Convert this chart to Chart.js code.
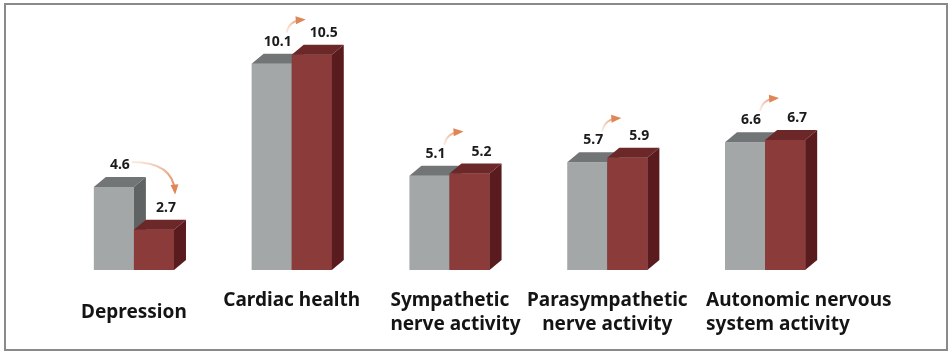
<!DOCTYPE html>
<html>
<head>
<meta charset="utf-8">
<script src="https://cdn.jsdelivr.net/npm/chart.js@4/dist/chart.umd.min.js"></script>
<style>
  html, body { margin: 0; padding: 0; background: #ffffff; }
  #wrap { position: relative; width: 952px; height: 355px; }
  #frame { position: absolute; left: 4px; top: 3px; width: 940px; height: 344px;
           border: 2px solid #8a8a8a; pointer-events: none; }
  canvas { position: absolute; left: 0; top: 0; }
</style>
</head>
<body>
<div id="wrap">
  <canvas id="c" width="952" height="355"></canvas>
  <div id="frame"></div>
</div>
<script>
const categories = [
  ['Depression'],
  ['Cardiac health'],
  ['Sympathetic', 'nerve activity'],
  ['Parasympathetic', 'nerve activity'],
  ['Autonomic nervous', 'system activity']
];
const beforeValues = [4.6, 10.1, 5.1, 5.7, 6.6];
const afterValues  = [2.7, 10.5, 5.2, 5.9, 6.7];
const axisMin = 0.9, axisMax = 11.6;

// styling of the category captions (alignment as in the original layout)
const captionAlign  = ['center', 'center', 'left', 'center', 'left'];
const captionVAlign = ['middle', 'top', 'top', 'top', 'top'];

const faceStyles = [
  { front: '#a4a7a8', top: '#717576', side: '#5f6364' },
  { front: '#8c3b3b', top: '#6c2829', side: '#5a1b1e' }
];
const DX = 12, DY = 10;

function faces(ctx, p, st) {
  const l = p.x - p.width / 2, r = p.x + p.width / 2;
  ctx.fillStyle = st.top;
  ctx.beginPath();
  ctx.moveTo(l, p.y); ctx.lineTo(l + DX, p.y - DY);
  ctx.lineTo(r + DX, p.y - DY); ctx.lineTo(r, p.y);
  ctx.closePath(); ctx.fill();
  ctx.fillStyle = st.side;
  ctx.beginPath();
  ctx.moveTo(r, p.y); ctx.lineTo(r + DX, p.y - DY);
  ctx.lineTo(r + DX, p.base - DY); ctx.lineTo(r, p.base);
  ctx.closePath(); ctx.fill();
}

const bar3d = {
  id: 'bar3d',
  afterDatasetsDraw(chart) {
    const ctx = chart.ctx;
    const m0 = chart.getDatasetMeta(0), m1 = chart.getDatasetMeta(1);
    ctx.save();
    m0.data.forEach((g, i) => {
      const pg = g.getProps(['x', 'y', 'base', 'width'], true);
      const pr = m1.data[i].getProps(['x', 'y', 'base', 'width'], true);
      faces(ctx, pg, faceStyles[0]);
      ctx.fillStyle = faceStyles[1].front;
      ctx.fillRect(pr.x - pr.width / 2, pr.y, pr.width, pr.base - pr.y);
      faces(ctx, pr, faceStyles[1]);
    });
    ctx.restore();
  }
};

function drawArrow(ctx, s, c, e) {
  const g = ctx.createLinearGradient(s.x, s.y, e.x, e.y);
  g.addColorStop(0, 'rgba(240,190,160,0.3)');
  g.addColorStop(1, '#e08556');
  ctx.strokeStyle = g;
  ctx.lineWidth = 2;
  ctx.beginPath();
  ctx.moveTo(s.x, s.y);
  ctx.quadraticCurveTo(c.x, c.y, e.x, e.y);
  ctx.stroke();
  const ang = Math.atan2(e.y - c.y, e.x - c.x);
  const L = 7, W = 4;
  ctx.fillStyle = '#e08556';
  ctx.beginPath();
  ctx.moveTo(e.x + Math.cos(ang) * 3, e.y + Math.sin(ang) * 3);
  ctx.lineTo(e.x - Math.cos(ang) * L + Math.sin(ang) * W, e.y - Math.sin(ang) * L - Math.cos(ang) * W);
  ctx.lineTo(e.x - Math.cos(ang) * L - Math.sin(ang) * W, e.y - Math.sin(ang) * L + Math.cos(ang) * W);
  ctx.closePath(); ctx.fill();
}

const valueLabels = {
  id: 'valueLabels',
  afterDraw(chart) {
    const ctx = chart.ctx;
    const m0 = chart.getDatasetMeta(0), m1 = chart.getDatasetMeta(1);
    ctx.save();
    ctx.textAlign = 'center';
    ctx.textBaseline = 'middle';
    m0.data.forEach((g, i) => {
      const r = m1.data[i];
      const gl = { x: g.x + 6, y: g.y - 22 };
      const rl = { x: r.x + 12, y: r.y - 22 };
      if (afterValues[i] >= beforeValues[i]) {
        const s = { x: gl.x + 9, y: gl.y - 9 };
        const e = { x: rl.x - 21, y: Math.min(rl.y - 3, s.y - 13) };
        drawArrow(ctx, s, { x: s.x + 2, y: e.y + 1 }, e);
      } else {
        const s = { x: gl.x + 12, y: gl.y - 3 };
        const e = { x: rl.x + 9, y: rl.y - 16 };
        drawArrow(ctx, s, { x: e.x - 2, y: s.y }, e);
      }
      ctx.font = 'bold 14px "Noto Sans", "DejaVu Sans", sans-serif';
      ctx.fillStyle = '#1b1b1b';
      ctx.fillText(beforeValues[i].toFixed(1), gl.x, gl.y);
      ctx.fillText(afterValues[i].toFixed(1), rl.x, rl.y);
    });

    // category captions under the bars
    const xs = chart.scales.x;
    const bottom = chart.chartArea.bottom;
    const lh = 24;
    ctx.font = 'bold 19px "Noto Sans", "DejaVu Sans", sans-serif';
    ctx.fillStyle = '#141414';
    categories.forEach((lines, i) => {
      const cx = xs.getPixelForValue(i);
      const gEl = m0.data[i];
      let x = cx, align = 'center';
      if (captionAlign[i] === 'left') {
        align = 'left';
        x = gEl.x - gEl.width / 2 - 19;
      }
      ctx.textAlign = align;
      const y0 = bottom + 31 + (captionVAlign[i] === 'middle' ? lh / 2 : 0);
      lines.forEach((t, k) => ctx.fillText(t, x, y0 + k * lh));
    });
    ctx.restore();
  }
};

new Chart(document.getElementById('c'), {
  type: 'bar',
  data: {
    labels: categories,
    datasets: [
      { label: 'Before', data: beforeValues, backgroundColor: faceStyles[0].front },
      { label: 'After', data: afterValues, backgroundColor: faceStyles[1].front }
    ]
  },
  options: {
    responsive: false,
    animation: false,
    devicePixelRatio: 1,
    layout: { padding: { left: 55, right: 108, top: 30, bottom: 85 } },
    datasets: { bar: { categoryPercentage: 0.508, barPercentage: 1.0, borderWidth: 0, base: axisMin } },
    plugins: { legend: { display: false }, tooltip: { enabled: false } },
    scales: {
      x: { display: false },
      y: { display: false, beginAtZero: false, min: axisMin, max: axisMax }
    }
  },
  plugins: [bar3d, valueLabels]
});
</script>
</body>
</html>
